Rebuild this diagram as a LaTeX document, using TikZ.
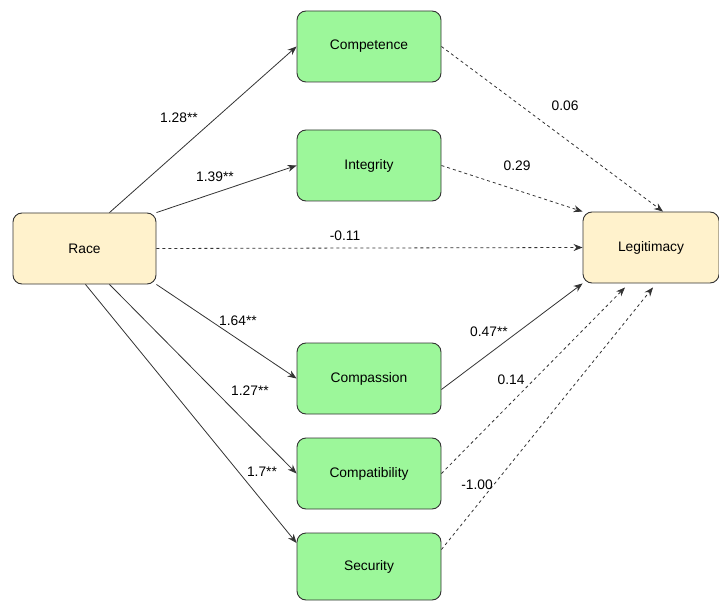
\documentclass[tikz,border=0pt]{standalone}
\usepackage{fontspec}
\setmainfont{Liberation Sans}
\usetikzlibrary{arrows.meta}
\definecolor{racefill}{HTML}{FFF2CC}
\definecolor{greenfill}{HTML}{9CF79A}
\definecolor{edge}{HTML}{333333}
\tikzset{
  box/.style={draw=edge, line width=0.9pt, rounded corners=9pt, inner sep=0pt, font=\fontsize{13.8}{16}\selectfont},
  yellowbox/.style={box, fill=racefill},
  greenbox/.style={box, fill=greenfill},
  conn/.style={draw=edge, line width=0.8pt, -{Stealth[length=9pt,width=7pt]}},
  dconn/.style={conn, dash pattern=on 3pt off 3pt},
  lab/.style={font=\fontsize{13.8}{16}\selectfont, inner sep=0pt}
}
\begin{document}
\begin{tikzpicture}[x=1pt,y=-1pt]
\useasboundingbox (0,0) rectangle (719,601);
% nodes
\node[yellowbox, minimum width=143pt, minimum height=71pt] (race) at (84.5,248.5) {Race};
\node[yellowbox, minimum width=136pt, minimum height=71pt] (leg) at (651,247.5) {Legitimacy};
\node[greenbox, minimum width=144pt, minimum height=71pt] (comp) at (369,46.5) {Competence};
\node[greenbox, minimum width=144pt, minimum height=71pt] (integ) at (369,165.5) {Integrity};
\node[greenbox, minimum width=144pt, minimum height=71pt] (compa) at (369,378.5) {Compassion};
\node[greenbox, minimum width=144pt, minimum height=71pt] (compat) at (369,473.5) {Compatibility};
\node[greenbox, minimum width=144pt, minimum height=67pt] (sec) at (369,566.5) {Security};
% Race to mediators
\draw[conn] ([xshift=25pt]race.north) -- (comp.west);
\draw[conn] (race.north east) -- (integ.west);
\draw[dconn] (race.east) -- (leg.west);
\draw[conn] (race.south east) -- (compa.west);
\draw[conn] ([xshift=25pt]race.south) -- (compat.west);
\draw[conn] ([xshift=1pt]race.south) -- ([yshift=23.5pt]sec.west);
% mediators to Legitimacy
\draw[dconn] (comp.east) -- ([xshift=12pt]leg.north);
\draw[dconn] (integ.east) -- (leg.north west);
\draw[conn] ([yshift=-11pt]compa.east) -- (leg.south west);
\draw[dconn] (compat.east) -- ([xshift=-26pt,yshift=-4pt]leg.south);
\draw[dconn] ([yshift=17pt]sec.east) -- ([xshift=2pt,yshift=-4pt]leg.south);
% labels
\node[lab] (l1) at (179,118) {1.28**};
\node[lab] (l2) at (215,177) {1.39**};
\node[lab] (l3) at (345,236) {-0.11};
\node[lab] (l4) at (238,321) {1.64**};
\node[lab] (l5) at (250,391) {1.27**};
\node[lab] (l6) at (262,472) {1.7**};
\node[lab] (l7) at (565,106) {0.06};
\node[lab] (l8) at (517,166) {0.29};
\node[lab] (l9) at (489,332) {0.47**};
\node[lab] (l10) at (511,380) {0.14};
\node[lab] (l11) at (477,485) {-1.00};
\end{tikzpicture}
\end{document}
